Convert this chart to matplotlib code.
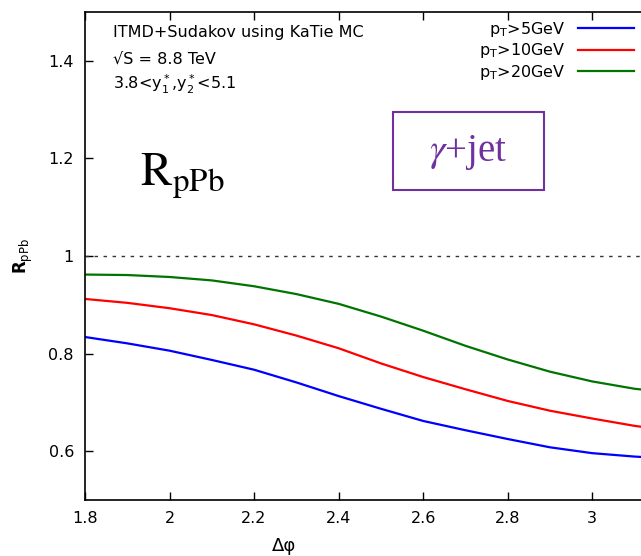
import numpy as np
import matplotlib.pyplot as plt
from matplotlib.patches import Rectangle

# values
dphi = [1.8, 1.9, 2.0, 2.1, 2.2, 2.3, 2.4, 2.5, 2.6, 2.7, 2.8, 2.9, 3.0, 3.1, np.pi]
r_pt5 = [0.834, 0.821, 0.806, 0.787, 0.767, 0.741, 0.713, 0.687, 0.662, 0.643, 0.625, 0.608, 0.596, 0.589, 0.587]
r_pt10 = [0.912, 0.904, 0.893, 0.879, 0.860, 0.837, 0.811, 0.780, 0.752, 0.727, 0.703, 0.683, 0.667, 0.652, 0.647]
r_pt20 = [0.962, 0.961, 0.957, 0.950, 0.938, 0.922, 0.902, 0.876, 0.847, 0.816, 0.788, 0.763, 0.743, 0.728, 0.724]
labels = [r'p$_\mathrm{T}$>5GeV', r'p$_\mathrm{T}$>10GeV', r'p$_\mathrm{T}$>20GeV']
xticks = [1.8, 2.0, 2.2, 2.4, 2.6, 2.8, 3.0]
yticks = [0.6, 0.8, 1.0, 1.2, 1.4]

fig = plt.figure(figsize=(6.41, 5.56), dpi=100)
# right edge of the frame sits just outside the picture, as in the reference
ax = fig.add_axes([85 / 641, 56 / 556, 567 / 641, 488 / 556])

ax.plot(dphi, r_pt5, color='#0000ff', lw=1.6, label=labels[0])
ax.plot(dphi, r_pt10, color='#ff0000', lw=1.6, label=labels[1])
ax.plot(dphi, r_pt20, color='#007400', lw=1.6, label=labels[2])
ax.axhline(1.0, color='#333333', lw=1.0, ls=(0, (2.5, 4)))

ax.set_xlim(1.8, np.pi)
ax.set_ylim(0.5, 1.5)
ax.set_xticks(xticks)
ax.set_xticklabels(['1.8', '2', '2.2', '2.4', '2.6', '2.8', '3'])
ax.set_yticks(yticks)
ax.set_yticklabels(['0.6', '0.8', '1', '1.2', '1.4'])
ax.tick_params(direction='in', length=6, width=1, labelsize=11.5, top=True, right=True, pad=8)
for s in ax.spines.values():
    s.set_linewidth(1.2)

fig.text(284 / 641, 1 - 546 / 556, 'Δφ', fontsize=13, ha='center', va='center')
ax.set_ylabel(r'R$_\mathrm{pPb}$', fontsize=12, fontweight='bold')
ax.yaxis.set_label_coords(-0.089, 0.5)

fig.text(113 / 641, 1 - 33 / 556, 'ITMD+Sudakov using KaTie MC', fontsize=11.5, va='center')
fig.text(113 / 641, 1 - 59 / 556, '√S = 8.8 TeV', fontsize=11.5, va='center')
fig.text(113 / 641, 1 - 84 / 556, r'3.8<$\mathrm{y}^*_1$,$\mathrm{y}^*_2$<5.1', fontsize=11.5, va='center')

leg = ax.legend(loc='upper right', bbox_to_anchor=(634 / 641, 1 - 20 / 556),
                bbox_transform=fig.transFigure, frameon=False, markerfirst=False,
                fontsize=11.5, handlelength=3.5, labelspacing=0.15, borderpad=0,
                borderaxespad=0, handletextpad=0.8)

fig.text(140 / 641, 1 - 176 / 556, r'$\mathrm{R}_{\mathrm{pPb}}$', fontsize=34,
         math_fontfamily='stix', va='center')

fig.patches.append(Rectangle((393 / 641, 1 - 190 / 556), 151 / 641, 78 / 556,
                             transform=fig.transFigure, fill=False, ec='#7030a0', lw=1.5))
fig.text(468 / 641, 1 - 152 / 556, r'$\gamma$+jet', fontsize=28, color='#7030a0',
         family='Liberation Serif', math_fontfamily='stix', ha='center', va='center')

plt.savefig('out.png', dpi=100)
